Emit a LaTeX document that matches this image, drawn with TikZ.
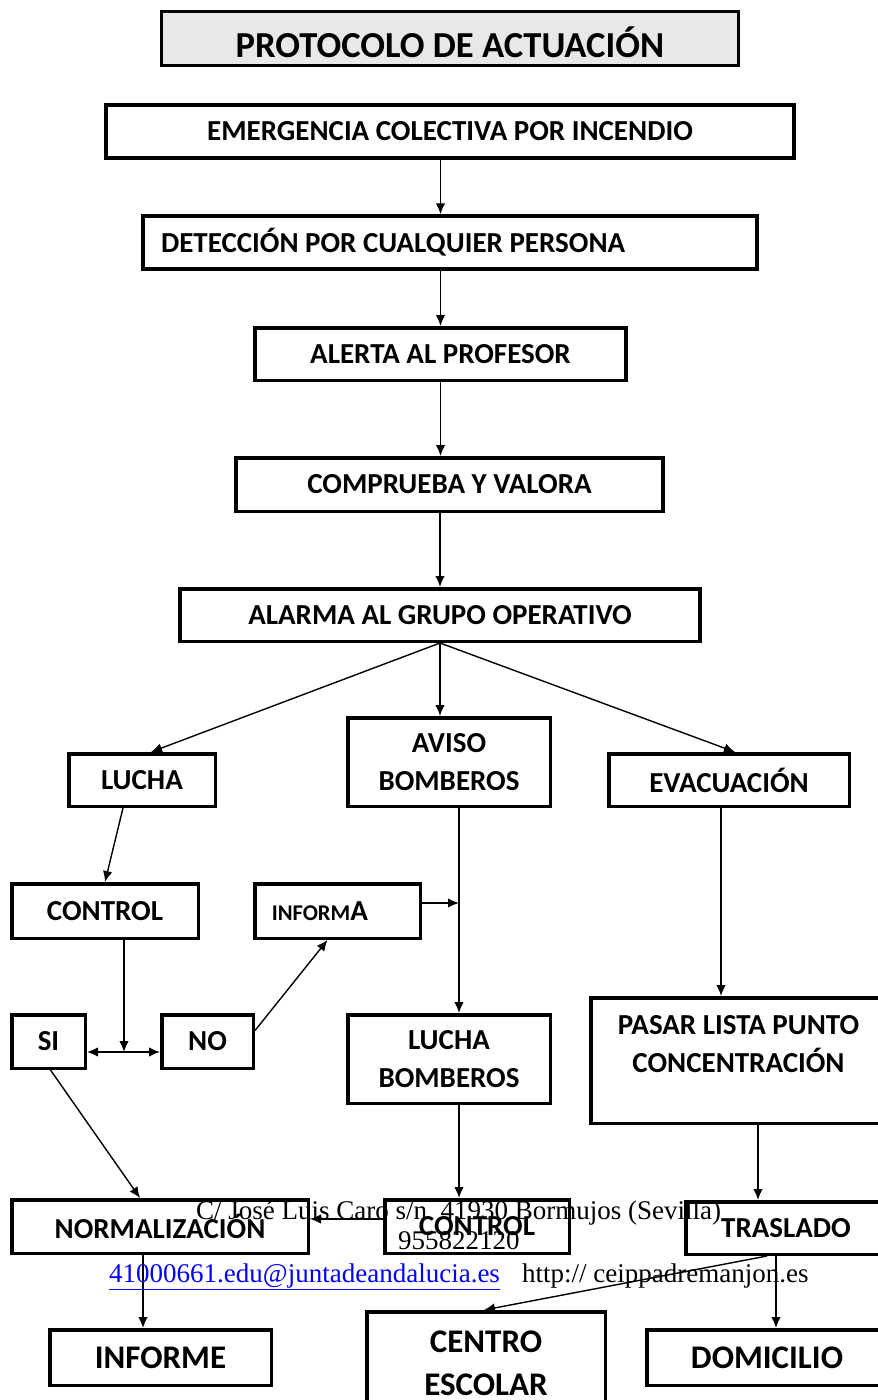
\documentclass[tikz,border=0pt]{standalone}
\usepackage{fontspec}
\setmainfont{Carlito}
\newfontfamily\pie{Liberation Serif}
\usepackage{tikz}
\usetikzlibrary{arrows.meta,calc,positioning}
\definecolor{gristitulo}{RGB}{232,232,232}
\definecolor{azulcorreo}{RGB}{0,0,255}

\begin{document}
\begin{tikzpicture}[x=1pt,y=-1pt,
	caja/.style={draw,line width=3.5pt,inner sep=0pt,align=center,font=\fontsize{29}{38}\selectfont\bfseries},
	flecha/.style={line width=1.4pt,-{Latex[length=11pt,width=9.5pt]}},
	piepag/.style={anchor=base west,inner sep=0pt,font=\pie\fontsize{27}{32}\selectfont}]
		\useasboundingbox (0,0) rectangle (878,1400);
		\clip (0,0) rectangle (878,1400);
		\node[caja,fill=gristitulo,minimum width=577pt,minimum height=54pt,text height=37pt,text depth=0pt,font=\fontsize{36.6}{44}\selectfont\bfseries] (titulo) at (450,38.5) {PROTOCOLO DE ACTUACIÓN};
		\node[caja,minimum width=688pt,minimum height=53pt] (emergencia) at (450,131.5) {EMERGENCIA COLECTIVA POR INCENDIO};
		\node[caja,minimum height=53pt,text width=578pt,inner xsep=18pt,align=flush left] (deteccion) at (450,242.5) {DETECCIÓN POR CUALQUIER PERSONA};
		\node[caja,minimum width=371pt,minimum height=52.5pt] (alerta) at (440.5,354) {ALERTA AL PROFESOR};
		\node[caja,minimum width=427pt,minimum height=53.5pt] (comprueba) at (449.5,484.5) {COMPRUEBA Y VALORA};
		\node[caja,minimum width=520pt,minimum height=52.5pt] (alarma) at (440,615) {ALARMA AL GRUPO OPERATIVO};
		\node[caja,minimum width=146.5pt,minimum height=52.5pt] (lucha) at (142,780) {LUCHA};
		\node[caja,minimum width=202.5pt,minimum height=88.5pt] (aviso) at (449,762) {AVISO\\BOMBEROS};
		\node[caja,minimum width=240.5pt,minimum height=52.5pt] (evacuacion) at (729,780) {EVACUACIÓN};
		\node[caja,minimum width=186.5pt,minimum height=54.5pt] (controla) at (105,911) {CONTROL};
		\node[caja,minimum height=54.5pt,text width=131.5pt,inner xsep=17pt,align=flush left] (informa) at (337.5,911) {{\fontsize{22.5}{27}\selectfont INFORM}A};
		\node[caja,minimum width=73.5pt,minimum height=53.5pt] (si) at (48.5,1041.5) {SI};
		\node[caja,minimum width=91.5pt,minimum height=53.5pt] (no) at (207.5,1041.5) {NO};
		\node[caja,minimum width=202.5pt,minimum height=88.5pt] (lbomberos) at (449,1059) {LUCHA\\BOMBEROS};
		\node[caja,minimum width=295.5pt,minimum height=125.5pt] (pasar) at (738.5,1060.5) {PASAR LISTA PUNTO\\CONCENTRACIÓN\rule[-34pt]{0pt}{0pt}};
		\node[caja,minimum width=296.5pt,minimum height=53.5pt] (normalizacion) at (160,1226.5) {NORMALIZACIÓN};
		\node[caja,minimum width=184.5pt,minimum height=53.5pt] (controlb) at (477,1226.5) {CONTROL};
		\node[caja,minimum width=200.5pt,minimum height=52.5pt] (traslado) at (786,1228) {TRASLADO};
		\node[caja,minimum width=221.5pt,minimum height=55.5pt,font=\fontsize{33}{43}\selectfont\bfseries] (informe) at (160.5,1357.5) {INFORME};
		\node[caja,minimum width=238.5pt,minimum height=103.5pt,font=\fontsize{33}{43}\selectfont\bfseries] (centro) at (486,1363.5) {CENTRO\\ESCOLAR};
		\node[caja,minimum width=240.5pt,minimum height=55.5pt,font=\fontsize{33}{43}\selectfont\bfseries] (domicilio) at (767,1357.5) {DOMICILIO};
		\coordinate (cruce) at (124,1052);
		\coordinate (eje) at (459,0);
		\coordinate (evx) at (721,0);
		\coordinate (trx) at (758,0);
		\coordinate (inf) at ($(informa.east)+(0,-8)$);
		\draw[flecha] (emergencia.south -| alerta.center) -- (deteccion.north -| alerta.center);
		\draw[flecha] (deteccion.south -| alerta.center) -- (alerta.north);
		\draw[flecha] (alerta.south) -- (alerta.south |- comprueba.north);
		\draw[flecha] (comprueba.south -| alarma.center) -- (alarma.north);
		\draw[flecha] (alarma.south) -- ($(lucha.north)+(9,0)$);
		\draw[flecha] (alarma.south) -- (alarma.south |- aviso.north);
		\draw[flecha] (alarma.south) -- ($(evacuacion.north)+(6,0)$);
		\draw[flecha] ($(lucha.south)+(-19,0)$) -- (controla.north);
		\draw[flecha] (cruce |- controla.south) -- (cruce);
		\draw[line width=1.4pt,{Latex[length=11pt,width=9.5pt]}-{Latex[length=11pt,width=9.5pt]}] (si.east |- cruce) -- (no.west |- cruce);
		\draw[flecha] ($(no.east)+(0,-11)$) -- ($(informa.south)+(-10,0)$);
		\draw[flecha] (inf) -- (inf -| eje);
		\draw[flecha] (aviso.south -| eje) -- (lbomberos.north -| eje);
		\draw[flecha] (evacuacion.south -| evx) -- (pasar.north -| evx);
		\draw[flecha] (lbomberos.south -| eje) -- (controlb.north -| eje);
		\draw[flecha] (pasar.south -| trx) -- (traslado.north -| trx);
		\draw[flecha] ($(si.south)+(2,0)$) -- ($(normalizacion.north)+(-20,0)$);
		\draw[flecha] ($(controlb.west)+(0,-7.5)$) -- ($(normalizacion.east)+(0,-7.5)$);
		\draw[flecha] ($(normalizacion.south)+(-17,0)$) -- ($(informe.north)+(-17.5,0)$);
		\draw[flecha] ($(traslado.south)+(-19,0)$) -- ($(centro.north)+(-2,0)$);
		\draw[flecha] ($(traslado.south)+(-10,0)$) -- ($(domicilio.north)+(9,0)$);
		\node[piepag] (direccion) at (196,1219) {C/ José Luis Caro s/n \ 41930 Bormujos (Sevilla)};
		\node[piepag] (telefono) at (398,1249) {955822120};
		\node[piepag,text=azulcorreo] (correo) at (109,1282) {\underline{41000661.edu@juntadeandalucia.es}};
		\node[piepag] (web) at (522,1282) {http:// ceippadremanjon.es};
\end{tikzpicture}
\end{document}
